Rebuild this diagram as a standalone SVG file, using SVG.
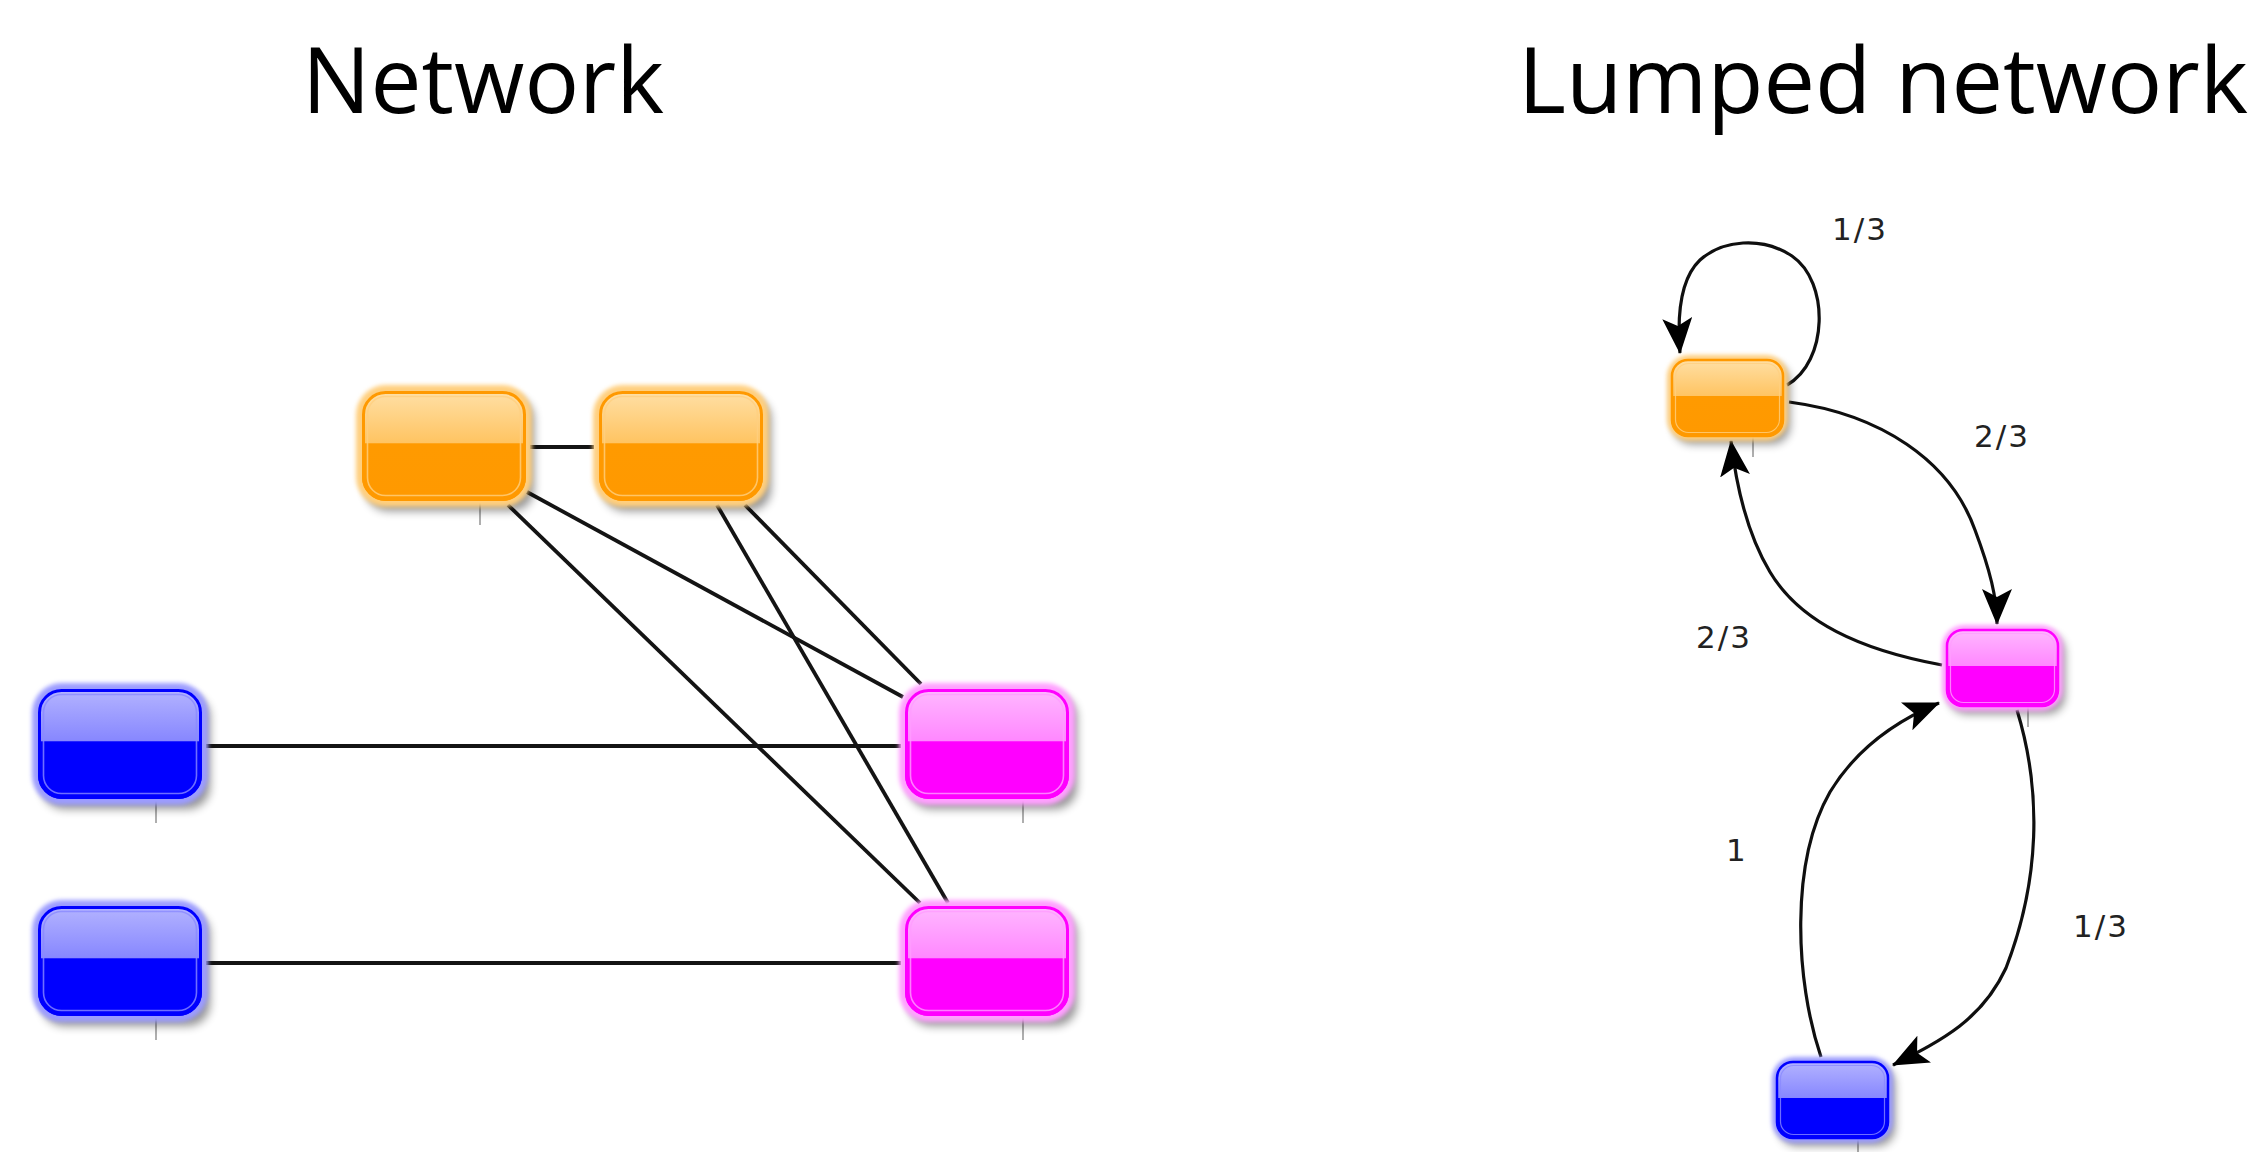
<svg xmlns="http://www.w3.org/2000/svg" width="2262" height="1152" viewBox="0 0 2262 1152">
  <defs>
    <!-- glossy fills: light upper half, saturated lower half -->
    <linearGradient id="gOrange" x1="0" y1="0" x2="0" y2="1">
      <stop offset="0" stop-color="#ffe0a6"/>
      <stop offset="0.47" stop-color="#ffc462"/>
      <stop offset="0.48" stop-color="#ff9a00"/>
      <stop offset="1" stop-color="#ff9900"/>
    </linearGradient>
    <linearGradient id="gBlue" x1="0" y1="0" x2="0" y2="1">
      <stop offset="0" stop-color="#b4b4ff"/>
      <stop offset="0.47" stop-color="#8787ff"/>
      <stop offset="0.48" stop-color="#0000ff"/>
      <stop offset="1" stop-color="#0000ff"/>
    </linearGradient>
    <linearGradient id="gMagenta" x1="0" y1="0" x2="0" y2="1">
      <stop offset="0" stop-color="#ffb8ff"/>
      <stop offset="0.47" stop-color="#ff88ff"/>
      <stop offset="0.48" stop-color="#ff00ff"/>
      <stop offset="1" stop-color="#ff00ff"/>
    </linearGradient>
    <filter id="soft" x="-20%" y="-20%" width="140%" height="140%">
      <feGaussianBlur stdDeviation="5"/>
    </filter>
    <filter id="halo" x="-10%" y="-10%" width="120%" height="120%">
      <feGaussianBlur stdDeviation="2"/>
    </filter>
    <marker id="arrow" markerUnits="userSpaceOnUse" markerWidth="36" markerHeight="30"
            viewBox="0 0 36 30" refX="35" refY="15" orient="auto">
      <path d="M0,0 L36,15 L0,30 L8,15 z" fill="#000"/>
    </marker>
    <style>
      .title { font-family: "Open Sans", "DejaVu Sans", sans-serif; font-size: 91px; fill: #000; }
      .lbl { font-family: "DejaVu Sans", "Liberation Sans", sans-serif; font-size: 31px; fill: #222; letter-spacing: 2px; }
      .shadow { fill: #000; opacity: 0.42; filter: url(#soft); }
      .glow { filter: url(#halo); }
      .ring { fill: none; stroke-width: 3; }
      .inner { fill: none; stroke-width: 1.6; opacity: 0.8; }
      .small .ring { stroke-width: 2.5; }
      .small .inner { stroke-width: 1.2; }
      .tick { stroke: #9a9a9a; stroke-width: 1.6; }
      .orange .glow { fill: #ffcf7e; }
      .orange .body { fill: url(#gOrange); }
      .orange .ring { stroke: #ff9900; }
      .orange .inner { stroke: #ffd080; }
      .blue .glow { fill: #9c9cff; }
      .blue .body { fill: url(#gBlue); }
      .blue .ring { stroke: #0000ff; }
      .blue .inner { stroke: #8a8aff; }
      .magenta .glow { fill: #ffa0ff; }
      .magenta .body { fill: url(#gMagenta); }
      .magenta .ring { stroke: #ff00ff; }
      .magenta .inner { stroke: #ff9cff; }
      .link { stroke: #141414; stroke-width: 3.8; fill: none; }
      .edge { stroke: #0f0f0f; stroke-width: 3.2; fill: none; marker-end: url(#arrow); }
    </style>
  </defs>

  <rect width="2262" height="1152" fill="#fff"/>

  <text class="title" x="302" y="113" textLength="362" lengthAdjust="spacingAndGlyphs">Network</text>
  <text class="title" x="1518" y="113" textLength="730" lengthAdjust="spacingAndGlyphs">Lumped network</text>

  <!-- undirected links of the full network -->
  <g id="network-links">
    <line class="link" x1="530" y1="447" x2="594" y2="447"/>
    <line class="link" x1="527" y1="492" x2="903" y2="697"/>
    <line class="link" x1="508" y1="505" x2="920" y2="903"/>
    <line class="link" x1="717" y1="505" x2="948" y2="903"/>
    <line class="link" x1="745" y1="505" x2="921" y2="684"/>
    <line class="link" x1="206" y1="746" x2="901" y2="746"/>
    <line class="link" x1="206" y1="963" x2="901" y2="963"/>
  </g>

  <!-- full network nodes -->
  <g id="net-orange-1" class="node orange" transform="translate(356,385)">
    <line class="tick" x1="124" y1="118" x2="124" y2="140"/>
    <rect class="shadow" x="10" y="12" width="168" height="114" rx="22"/>
    <rect class="glow" width="176" height="122" rx="30"/>
    <rect class="body" x="6" y="6" width="164" height="110" rx="24"/>
    <rect class="ring" x="7.5" y="7.5" width="161" height="107" rx="22"/>
    <rect class="inner" x="11.5" y="11.5" width="153" height="99" rx="18"/>
  </g>
  <g id="net-orange-2" class="node orange" transform="translate(593,385)">
    <rect class="shadow" x="10" y="12" width="168" height="114" rx="22"/>
    <rect class="glow" width="176" height="122" rx="30"/>
    <rect class="body" x="6" y="6" width="164" height="110" rx="24"/>
    <rect class="ring" x="7.5" y="7.5" width="161" height="107" rx="22"/>
    <rect class="inner" x="11.5" y="11.5" width="153" height="99" rx="18"/>
  </g>
  <g id="net-blue-1" class="node blue" transform="translate(32,683)">
    <line class="tick" x1="124" y1="118" x2="124" y2="140"/>
    <rect class="shadow" x="10" y="12" width="168" height="114" rx="22"/>
    <rect class="glow" width="176" height="122" rx="30"/>
    <rect class="body" x="6" y="6" width="164" height="110" rx="24"/>
    <rect class="ring" x="7.5" y="7.5" width="161" height="107" rx="22"/>
    <rect class="inner" x="11.5" y="11.5" width="153" height="99" rx="18"/>
  </g>
  <g id="net-blue-2" class="node blue" transform="translate(32,900)">
    <line class="tick" x1="124" y1="118" x2="124" y2="140"/>
    <rect class="shadow" x="10" y="12" width="168" height="114" rx="22"/>
    <rect class="glow" width="176" height="122" rx="30"/>
    <rect class="body" x="6" y="6" width="164" height="110" rx="24"/>
    <rect class="ring" x="7.5" y="7.5" width="161" height="107" rx="22"/>
    <rect class="inner" x="11.5" y="11.5" width="153" height="99" rx="18"/>
  </g>
  <g id="net-magenta-1" class="node magenta" transform="translate(899,683)">
    <line class="tick" x1="124" y1="118" x2="124" y2="140"/>
    <rect class="shadow" x="10" y="12" width="168" height="114" rx="22"/>
    <rect class="glow" width="176" height="122" rx="30"/>
    <rect class="body" x="6" y="6" width="164" height="110" rx="24"/>
    <rect class="ring" x="7.5" y="7.5" width="161" height="107" rx="22"/>
    <rect class="inner" x="11.5" y="11.5" width="153" height="99" rx="18"/>
  </g>
  <g id="net-magenta-2" class="node magenta" transform="translate(899,900)">
    <line class="tick" x1="124" y1="118" x2="124" y2="140"/>
    <rect class="shadow" x="10" y="12" width="168" height="114" rx="22"/>
    <rect class="glow" width="176" height="122" rx="30"/>
    <rect class="body" x="6" y="6" width="164" height="110" rx="24"/>
    <rect class="ring" x="7.5" y="7.5" width="161" height="107" rx="22"/>
    <rect class="inner" x="11.5" y="11.5" width="153" height="99" rx="18"/>
  </g>

  <!-- weighted transitions of the lumped network -->
  <g id="lumped-edges">
    <path class="edge" d="M1787,385 C1828,362 1830,282 1792,256 C1762,236 1722,240 1700,260 C1680,279 1677,315 1680,353"/>
    <path class="edge" d="M1789,402 C1880,414 1950,460 1975,530 C1990,570 1997,598 1997,624"/>
    <path class="edge" d="M1942,665 C1860,650 1800,622 1770,572 C1746,532 1736,484 1731,441"/>
    <path class="edge" d="M1821,1057 C1795,980 1790,862 1830,792 C1858,746 1898,720 1939,703"/>
    <path class="edge" d="M2017,710 C2042,792 2040,880 2006,968 C1982,1020 1942,1040 1893,1065"/>
  </g>

  <g id="lumped-labels">
    <text class="lbl" x="1832" y="240">1/3</text>
    <text class="lbl" x="1974" y="447">2/3</text>
    <text class="lbl" x="1696" y="648">2/3</text>
    <text class="lbl" x="1726" y="861">1</text>
    <text class="lbl" x="2073" y="937">1/3</text>
  </g>

  <!-- lumped network nodes -->
  <g id="lump-orange" class="node orange small" transform="translate(1667,355)">
    <line class="tick" x1="86" y1="82" x2="86" y2="102"/>
    <rect class="shadow" x="7" y="9" width="116" height="80" rx="18"/>
    <rect class="glow" width="121" height="86" rx="22"/>
    <rect class="body" x="4" y="4" width="113" height="78" rx="18"/>
    <rect class="ring" x="5" y="5" width="111" height="76" rx="16"/>
    <rect class="inner" x="8.5" y="8.5" width="104" height="69" rx="13"/>
  </g>
  <g id="lump-magenta" class="node magenta small" transform="translate(1942,625)">
    <line class="tick" x1="86" y1="82" x2="86" y2="102"/>
    <rect class="shadow" x="7" y="9" width="116" height="80" rx="18"/>
    <rect class="glow" width="121" height="86" rx="22"/>
    <rect class="body" x="4" y="4" width="113" height="78" rx="18"/>
    <rect class="ring" x="5" y="5" width="111" height="76" rx="16"/>
    <rect class="inner" x="8.5" y="8.5" width="104" height="69" rx="13"/>
  </g>
  <g id="lump-blue" class="node blue small" transform="translate(1772,1057)">
    <line class="tick" x1="86" y1="82" x2="86" y2="102"/>
    <rect class="shadow" x="7" y="9" width="116" height="80" rx="18"/>
    <rect class="glow" width="121" height="86" rx="22"/>
    <rect class="body" x="4" y="4" width="113" height="78" rx="18"/>
    <rect class="ring" x="5" y="5" width="111" height="76" rx="16"/>
    <rect class="inner" x="8.5" y="8.5" width="104" height="69" rx="13"/>
  </g>
</svg>
